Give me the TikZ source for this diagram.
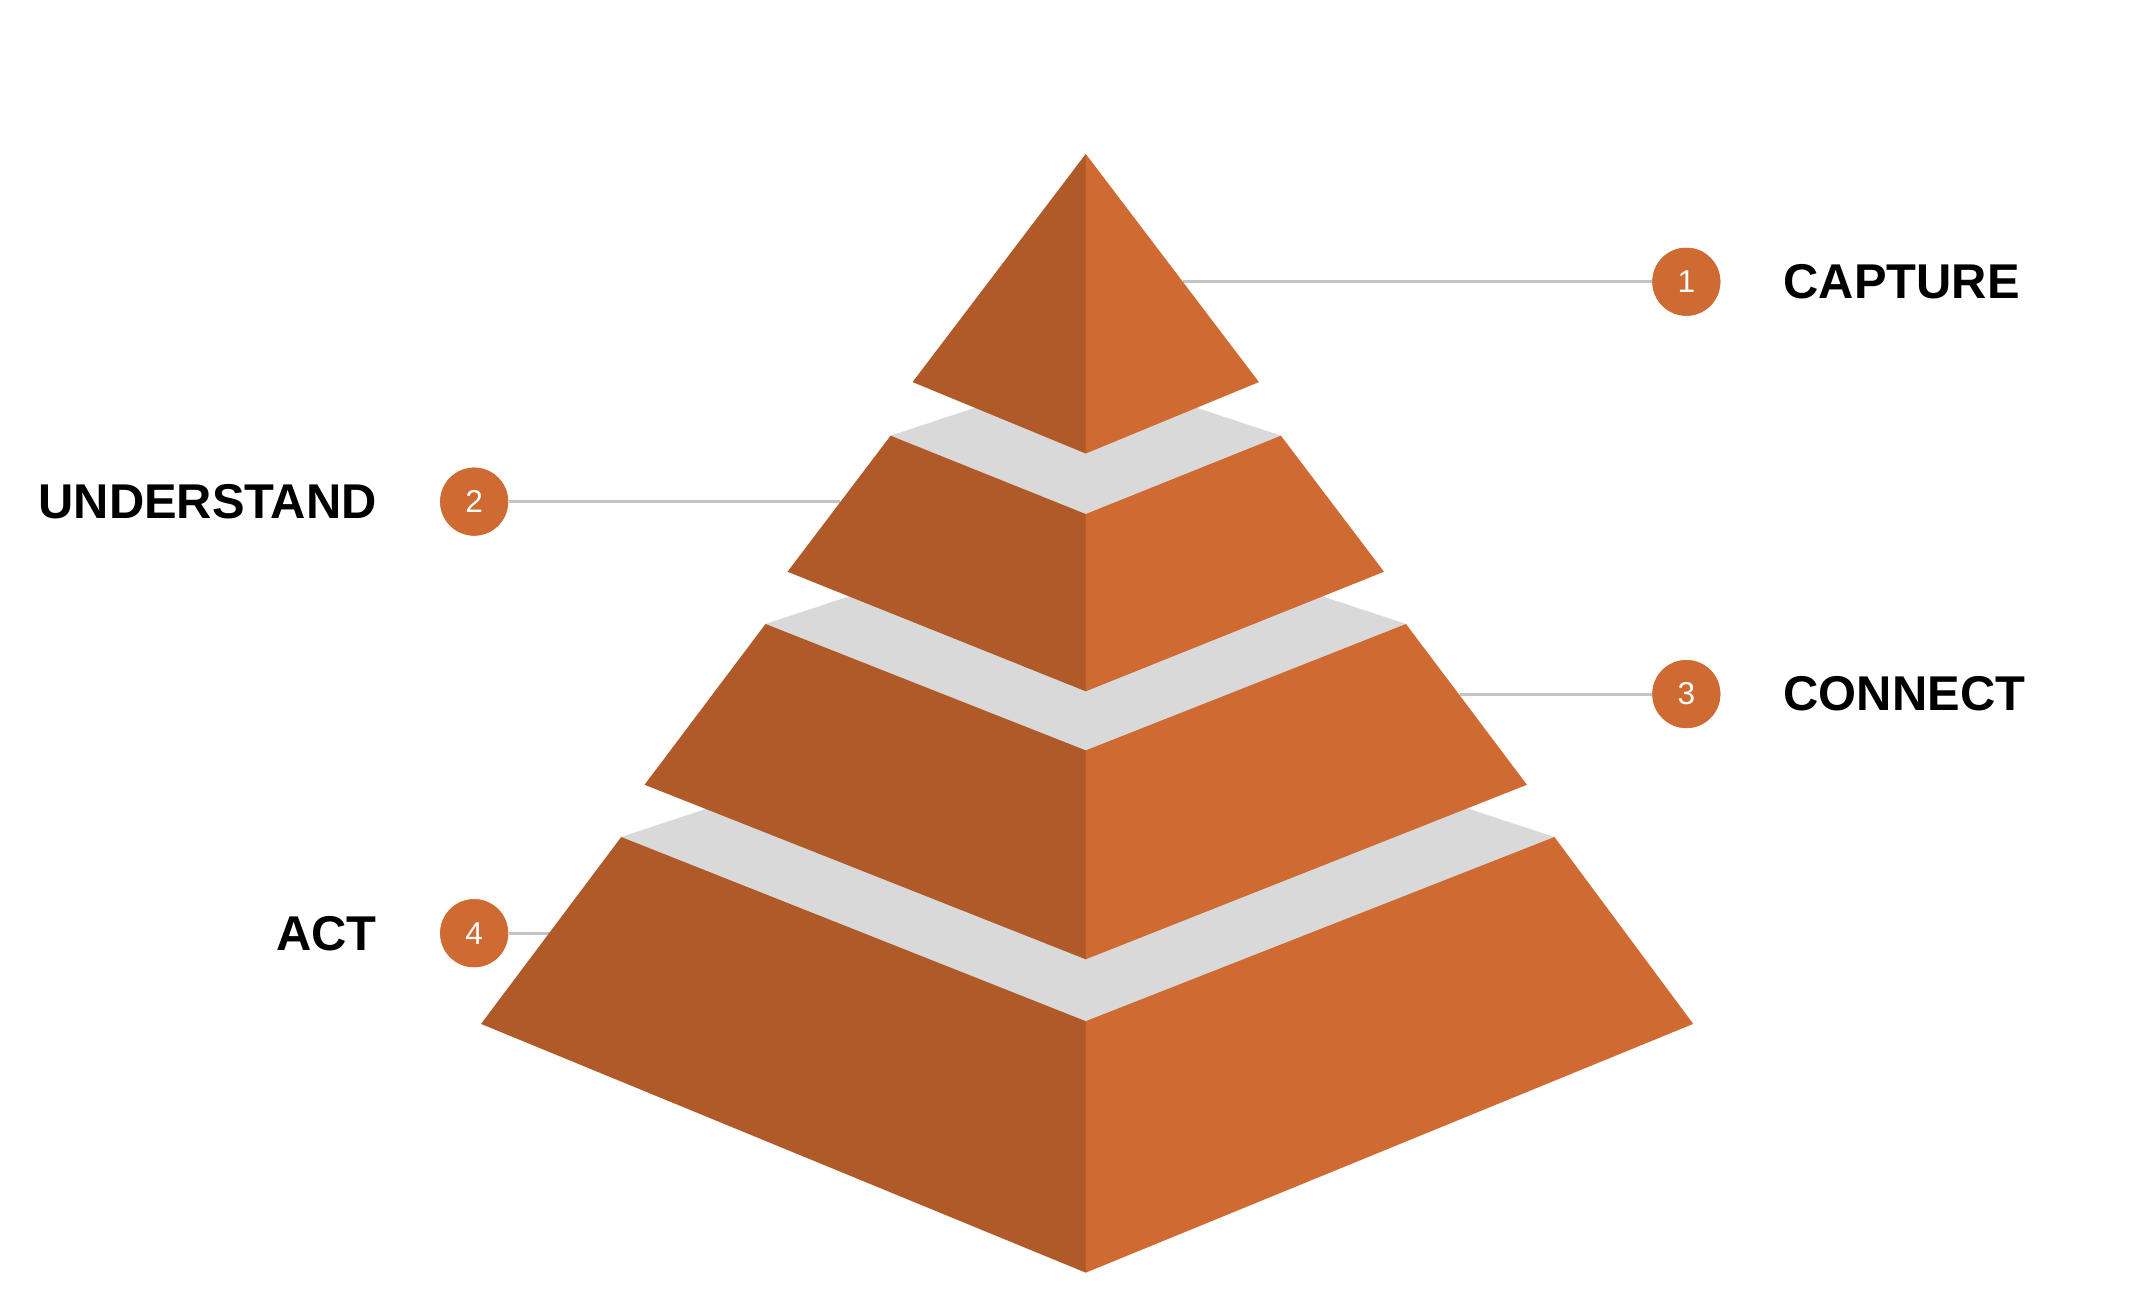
\documentclass[tikz,border=0pt]{standalone}
\usepackage{fontspec}
\setmainfont{Liberation Sans}
\usetikzlibrary{positioning}
\definecolor{darkside}{HTML}{B05A2A}
\definecolor{lightside}{HTML}{CF6A32}
\definecolor{shelfgray}{HTML}{D9D9D9}
\definecolor{leader}{HTML}{C4C4C4}

\begin{document}
\begin{tikzpicture}[x=0.013744cm,y=-0.013744cm,node distance=0.62cm]
    \tikzstyle{dark}=[fill=darkside]
    \tikzstyle{light}=[fill=lightside]
    \tikzstyle{shelf}=[fill=shelfgray]
    \tikzstyle{badge}=[circle, fill=lightside, text=white, minimum size=0.68cm, inner sep=0pt, font=\fontsize{9}{9}\selectfont]
    \tikzstyle{stage}=[inner sep=0pt, font=\fontsize{13.9}{13.9}\selectfont\bfseries]
    \tikzstyle{link}=[draw=leader, line width=0.85pt]

    \useasboundingbox (0,0) rectangle (1560,944.4);

    \node[badge]    (c1) at (1227,205) {1};
    \node[badge]    (c2) at (345,365) {2};
    \node[badge]    (c3) at (1227,505) {3};
    \node[badge]    (c4) at (345,679) {4};
    \node[stage]    (capture) [right=of c1] {CAPTURE};
    \node[stage]    (understand) [left=of c2] {UNDERSTAND};
    \node[stage]    (connect) [right=of c3] {CONNECT};
    \node[stage]    (act) [left=of c4] {ACT};

    \coordinate (e1) at (861,205);
    \coordinate (e2) at (611,365);
    \coordinate (e3) at (1062,505);
    \coordinate (e4) at (400,679);
    \draw[link] (e1) -- (c1);
    \draw[link] (c2) -- (e2);
    \draw[link] (e3) -- (c3);
    \draw[link] (c4) -- (e4);

    % tier 4
    \fill[shelf] (452,609) -- (790,497) -- (1131,609) -- (790,743) -- cycle;
    \fill[dark]  (452,609) -- (790,743) -- (790,926) -- (350,745) -- cycle;
    \fill[light] (1131,609) -- (790,743) -- (790,926) -- (1232,745) -- cycle;
    % tier 3
    \fill[shelf] (557,454) -- (790,377) -- (1023,454) -- (790,546) -- cycle;
    \fill[dark]  (557,454) -- (790,546) -- (790,698) -- (469,571) -- cycle;
    \fill[light] (1023,454) -- (790,546) -- (790,698) -- (1111,571) -- cycle;
    % tier 2
    \fill[shelf] (648,317) -- (790,270) -- (932,317) -- (790,374) -- cycle;
    \fill[dark]  (648,317) -- (790,374) -- (790,503) -- (573,416) -- cycle;
    \fill[light] (932,317) -- (790,374) -- (790,503) -- (1007,416) -- cycle;
    % tier 1
    \fill[dark]  (790,112) -- (790,330) -- (664,278) -- cycle;
    \fill[light] (790,112) -- (790,330) -- (916,278) -- cycle;

    \node[badge] at (c1) {1};
    \node[badge] at (c2) {2};
    \node[badge] at (c3) {3};
    \node[badge] at (c4) {4};
\end{tikzpicture}
\end{document}
